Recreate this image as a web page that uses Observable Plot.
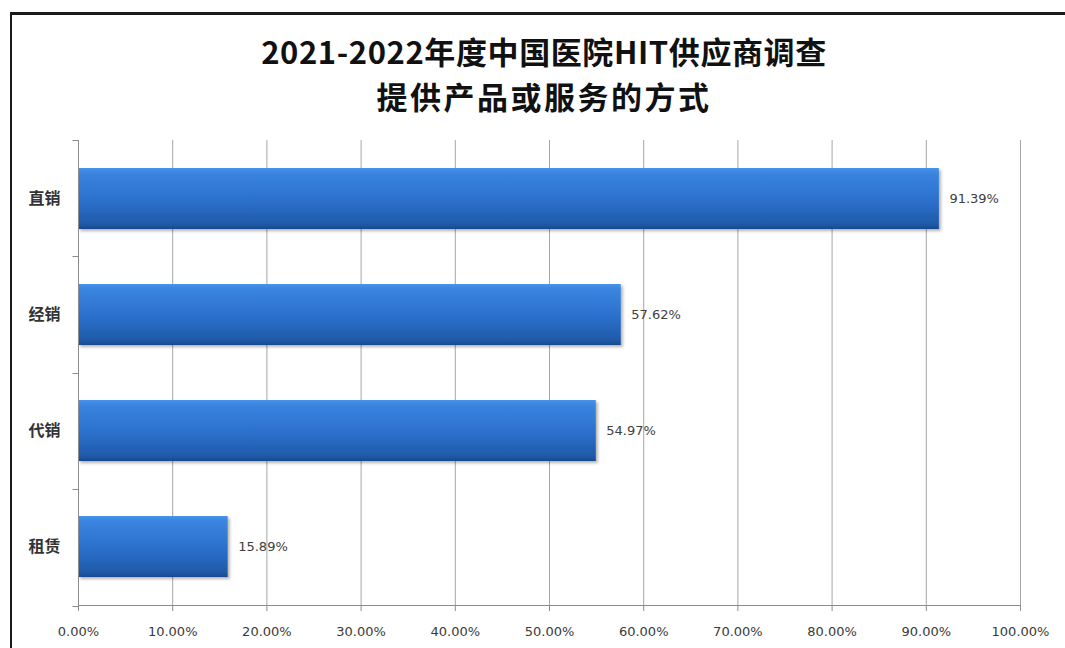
<!DOCTYPE html>
<html><head><meta charset="utf-8">
<script src="https://cdn.jsdelivr.net/npm/d3@7"></script>
<script src="https://cdn.jsdelivr.net/npm/@observablehq/plot@0.6"></script>
<style>
body{margin:0;background:#fff;width:1065px;height:648px;overflow:hidden;position:relative;font-family:"Noto Sans CJK SC","DejaVu Sans",sans-serif}
#frame{position:absolute;left:10px;top:12px;width:1100px;height:700px;border-top:3px solid #1a1a1a;border-left:2px solid #1a1a1a;box-sizing:border-box;pointer-events:none}
#title{height:120px;text-align:center;font-weight:bold;font-size:31px;line-height:45px;padding-top:28px;padding-left:23px;box-sizing:border-box;color:#111;white-space:nowrap}
#title .l1{letter-spacing:0.6px}
#title .l2{letter-spacing:2.5px}
#chart svg{display:block}
</style>
</head><body>
<div id="title"><div class="l1">2021-2022年度中国医院HIT供应商调查</div><div class="l2">提供产品或服务的方式</div></div>
<div id="chart"></div>
<div id="frame"></div>
<script>
const categories = ["直销", "经销", "代销", "租赁"];
const values = [0.9139, 0.5762, 0.5497, 0.1589];
const xTicks = [0, 0.1, 0.2, 0.3, 0.4, 0.5, 0.6, 0.7, 0.8, 0.9, 1.0];

const data = categories.map((c, i) => ({cat: c, value: values[i]}));
const pct = d3.format(".2%");

function axisLines(index, scales, vals, dims) {
  const g = d3.create("svg:g").attr("stroke", "#8c8c8c").attr("stroke-width", 1);
  const x0 = dims.marginLeft + 0.5, x1 = dims.width - dims.marginRight;
  const y0 = dims.marginTop, y1 = dims.height - dims.marginBottom + 0.5;
  g.append("line").attr("x1", x0).attr("x2", x0).attr("y1", y0).attr("y2", y1);
  g.append("line").attr("x1", x0).attr("x2", x1).attr("y1", y1).attr("y2", y1);
  const n = categories.length;
  for (let k = 0; k <= n; k++) {
    const yy = Math.round(y0 + k * (y1 - y0) / n) + 0.5;
    g.append("line").attr("x1", x0 - 6).attr("x2", x0).attr("y1", yy).attr("y2", yy);
  }
  return g.node();
}

const plot = Plot.plot({
  width: 1065,
  height: 528,
  marginTop: 20,
  marginBottom: 43,
  marginLeft: 78,
  marginRight: 45,
  style: {fontFamily: '"DejaVu Sans", "Noto Sans CJK SC", sans-serif', background: "transparent", overflow: "visible"},
  x: {domain: [0, 1]},
  y: {domain: categories, paddingInner: 0.475, paddingOuter: 0.2375},
  marks: [
    Plot.gridX(xTicks, {stroke: "#a6a6a6", strokeOpacity: 1}),
    Plot.barX(data, {x: "value", y: "cat", fill: "url(#barGrad)"}),
    Plot.text(data, {x: "value", y: "cat", text: d => pct(d.value), textAnchor: "start", dx: 10, fontSize: 13, fill: "#404040"}),
    axisLines,
    Plot.axisX({ticks: xTicks, tickFormat: pct, tickSize: 6, tickPadding: 15, fontSize: 13, stroke: "#8c8c8c", fill: "#3a3a3a", label: null}),
    Plot.axisY({tickSize: 0, tickPadding: 18, fontSize: 16, fontWeight: "bold", fill: "#333", label: null, fontFamily: '"Noto Sans CJK SC", sans-serif'})
  ]
});

const svg = d3.select(plot);
const defs = svg.insert("defs", ":first-child");
const grad = defs.append("linearGradient").attr("id", "barGrad").attr("x1", 0).attr("y1", 0).attr("x2", 0).attr("y2", 1);
grad.append("stop").attr("offset", "0%").attr("stop-color", "#4a93ea");
grad.append("stop").attr("offset", "8%").attr("stop-color", "#3a85e0");
grad.append("stop").attr("offset", "55%").attr("stop-color", "#2b6fcb");
grad.append("stop").attr("offset", "92%").attr("stop-color", "#1f5aa8");
grad.append("stop").attr("offset", "100%").attr("stop-color", "#18498c");
const filt = defs.append("filter").attr("id", "barShadow").attr("x", "-5%").attr("y", "-10%").attr("width", "115%").attr("height", "130%");
filt.append("feDropShadow").attr("dx", 2).attr("dy", 2).attr("stdDeviation", 1.5).attr("flood-color", "#000").attr("flood-opacity", 0.3);
svg.selectAll('g[aria-label="bar"] rect').attr("filter", "url(#barShadow)");

document.getElementById("chart").appendChild(plot);
</script>
</body></html>
